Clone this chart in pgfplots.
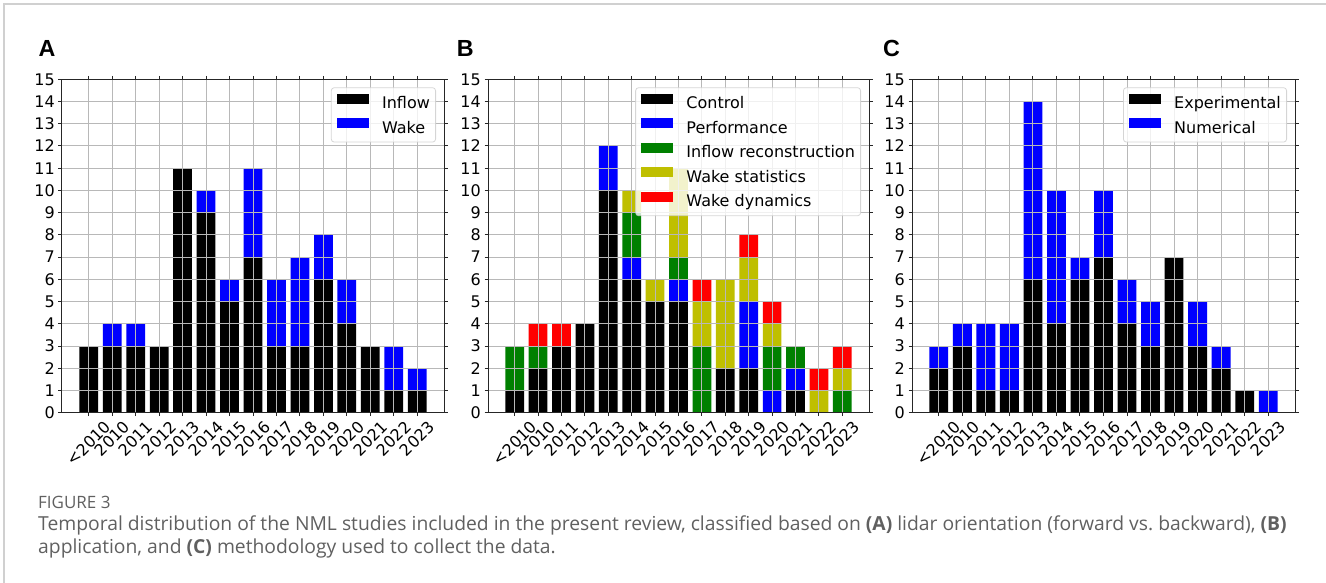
\documentclass[border=0pt]{standalone}
\usepackage{fontspec}
\setmainfont{DejaVu Sans}
\newfontfamily\arialf{Liberation Sans}
\newfontfamily\capf{Open Sans}
\usepackage{pgfplots}
\usepackage{pgfplotstable}
\pgfplotsset{compat=1.18}
\definecolor{myy}{rgb}{0.75,0.75,0}
\definecolor{mygreen}{rgb}{0,0.5,0}
\definecolor{gridc}{HTML}{B8B8B8}
\definecolor{capgray}{HTML}{606060}
\definecolor{framec}{HTML}{D0D0D0}
\newcommand\R[1]{\rotatebox{45}{#1}}

\pgfplotstableread{
x in wa
0 3 0
1 3 1
2 3 1
3 3 0
4 11 0
5 9 1
6 5 1
7 7 4
8 3 3
9 3 4
10 6 2
11 4 2
12 3 0
13 1 2
14 1 1
}\tabA
\pgfplotstableread{
x c p i s d
0 1 0 2 0 0
1 2 0 1 0 1
2 3 0 0 0 1
3 4 0 0 0 0
4 10 2 0 0 0
5 6 1 2 1 0
6 5 0 0 1 0
7 5 1 1 4 0
8 0 0 3 2 1
9 2 0 0 4 0
10 2 3 0 2 1
11 0 1 2 1 1
12 1 1 1 0 0
13 0 0 0 1 1
14 0 0 1 1 1
}\tabB
\pgfplotstableread{
x e n
0 2 1
1 3 1
2 1 3
3 1 3
4 6 8
5 4 6
6 6 1
7 7 3
8 4 2
9 3 2
10 7 0
11 3 2
12 2 1
13 1 0
14 0 1
}\tabC

\pgfplotsset{
  panel/.style={
    scale only axis, height=333.4pt,
    anchor=south west,
    xmin=-1.14, xmax=15.14, ymin=0, ymax=15,
    ybar stacked, bar width=0.8,
    xtick={0,...,14}, ytick={0,...,15},
    xticklabels={\R{<2010},\R{2010},\R{2011},\R{2012},\R{2013},\R{2014},\R{2015},\R{2016},\R{2017},\R{2018},\R{2019},\R{2020},\R{2021},\R{2022},\R{2023}},
    tick align=outside, major tick length=3.5pt,
    tick style={black!85, line width=1pt},
    grid=major, grid style={gridc, line width=1pt},
    axis on top,
    axis line style={black!85, line width=1pt},
    tick label style={font=\fontsize{16}{16}\selectfont},
    /pgf/number format/assume math mode=true,
    xticklabel style={anchor=north, inner sep=3.5pt},
    yticklabel style={anchor=east, inner sep=3.5pt},
    every axis plot/.append style={draw=none, fill opacity=1},
    legend image code/.code={\fill[##1, sharp corners] (0pt,0.5pt) rectangle (31.7pt,10.5pt);},
    legend style={
      at={(rel axis cs:1,1)}, anchor=north east, xshift=-8pt, yshift=-8pt,
      draw=black!20, line width=0.8pt, fill=white, fill opacity=0.8, text opacity=1, draw opacity=0.8,
      rounded corners=3pt, inner xsep=5.7pt, inner ysep=6pt,
      font=\fontsize{16}{19}\selectfont,
      nodes={inner sep=0pt, text height=11.7pt, text depth=3pt},
      row sep=6.7pt,
      /tikz/every odd column/.append style={column sep=13.4pt},
      cells={anchor=west},
    },
  }
}

\begin{document}
\begin{tikzpicture}[x=1pt,y=1pt]
\path[use as bounding box] (0,0) rectangle (1326,583);
\draw[framec, line width=1.3pt] (4,0) -- (4,579) -- (1326,579);

\node[anchor=base west, inner sep=0pt] at (38.3,526.3) {\arialf\bfseries\fontsize{23.3}{23.3}\selectfont A};
\node[anchor=base west, inner sep=0pt] at (456.7,526.3) {\arialf\bfseries\fontsize{23.3}{23.3}\selectfont B};
\node[anchor=base west, inner sep=0pt] at (883,526.3) {\arialf\bfseries\fontsize{23.3}{23.3}\selectfont C};

\begin{axis}[panel, width=382pt, at={(62pt,170.3pt)}]
\addplot[fill=black] table[x=x,y=in] {\tabA};
\addplot[fill=blue] table[x=x,y=wa] {\tabA};
\legend{Inflow,Wake}
\end{axis}

\begin{axis}[panel, width=381pt, at={(488pt,170.3pt)}]
\addplot[fill=black] table[x=x,y=c] {\tabB};
\addplot[fill=blue] table[x=x,y=p] {\tabB};
\addplot[fill=mygreen] table[x=x,y=i] {\tabB};
\addplot[fill=myy] table[x=x,y=s] {\tabB};
\addplot[fill=red] table[x=x,y=d] {\tabB};
\legend{Control,Performance,Inflow reconstruction,Wake statistics,Wake dynamics}
\end{axis}

\begin{axis}[panel, width=383pt, at={(912pt,170.3pt)}]
\addplot[fill=black] table[x=x,y=e] {\tabC};
\addplot[fill=blue] table[x=x,y=n] {\tabC};
\legend{Experimental,Numerical}
\end{axis}

\node[anchor=base west, inner sep=0pt, text=capgray] at (38,74) {\capf\fontsize{17}{17}\selectfont FIGURE 3};
\node[anchor=base west, inner sep=0pt, text=capgray] at (38,52) {\capf\fontsize{19.3}{19.3}\selectfont Temporal distribution of the NML studies included in the present review, classified based on \textbf{(A)} lidar orientation (forward vs.\ backward), \textbf{(B)}};
\node[anchor=base west, inner sep=0pt, text=capgray] at (38,29) {\capf\fontsize{19.3}{19.3}\selectfont application, and \textbf{(C)} methodology used to collect the data.};
\end{tikzpicture}
\end{document}
